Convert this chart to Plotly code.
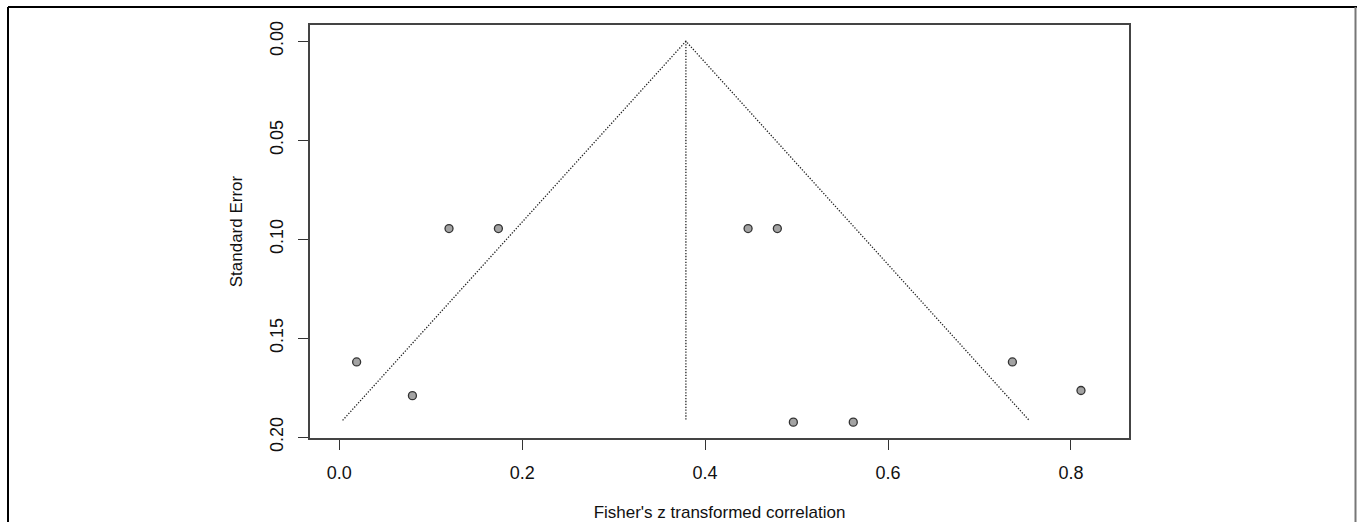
import plotly.graph_objects as go

# Study estimates (Fisher's z) and their standard errors
z_values = [0.019, 0.080, 0.120, 0.174, 0.447, 0.479, 0.4965, 0.562, 0.736, 0.811]
std_errors = [0.162, 0.179, 0.0946, 0.0946, 0.0946, 0.0946, 0.1924, 0.1924, 0.162, 0.1764]

# Funnel definition
pooled_z = 0.379
max_se = 0.1915
z_crit = 1.96

x_ticks = [0.0, 0.2, 0.4, 0.6, 0.8]
x_tick_labels = ["0.0", "0.2", "0.4", "0.6", "0.8"]
y_ticks = [0.00, 0.05, 0.10, 0.15, 0.20]
y_tick_labels = ["0.00", "0.05", "0.10", "0.15", "0.20"]

W, H = 1357, 522
L, R, T, B = 310, 1129, 25, 438

fig = go.Figure()

dot_line = dict(color="#222", width=1.3, dash="1.3px,1.6px")

# funnel sides
fig.add_trace(go.Scatter(
    x=[pooled_z - z_crit * max_se, pooled_z, pooled_z + z_crit * max_se],
    y=[max_se, 0.0, max_se],
    mode="lines", line=dot_line,
    hoverinfo="skip", showlegend=False))
# center line
fig.add_trace(go.Scatter(
    x=[pooled_z, pooled_z], y=[0.0, max_se],
    mode="lines", line=dot_line,
    hoverinfo="skip", showlegend=False))
# studies
fig.add_trace(go.Scatter(
    x=z_values, y=std_errors, mode="markers",
    marker=dict(symbol="circle", size=8, color="#a3a3a3",
                line=dict(color="#333", width=1.3)),
    showlegend=False))

font = dict(family="Liberation Sans, Arial, sans-serif", size=17, color="#111")
tick_font = dict(family="Liberation Sans, Arial, sans-serif", size=18, color="#111")

def px2paper_x(px):
    return (px - L) / (R - L)

def px2paper_y(py):
    return (B - py) / (B - T)

# outer image frame
fig.add_shape(type="line", xref="paper", yref="paper",
              x0=px2paper_x(8), x1=px2paper_x(1357), y0=px2paper_y(7), y1=px2paper_y(7),
              line=dict(color="#000", width=2))
fig.add_shape(type="line", xref="paper", yref="paper",
              x0=px2paper_x(8), x1=px2paper_x(8), y0=px2paper_y(7), y1=px2paper_y(522),
              line=dict(color="#000", width=2))
fig.add_shape(type="line", xref="paper", yref="paper",
              x0=px2paper_x(1355.5), x1=px2paper_x(1355.5), y0=px2paper_y(7), y1=px2paper_y(522),
              line=dict(color="#777", width=2))

fig.update_layout(
    width=W, height=H,
    margin=dict(l=L, r=W - R, t=T, b=H - B, autoexpand=False),
    paper_bgcolor="white", plot_bgcolor="white",
    font=font,
    xaxis=dict(
        range=[-0.032, 0.8635], tickmode="array", tickvals=x_ticks, ticktext=x_tick_labels,
        showgrid=False, zeroline=False, showline=True, mirror=True, automargin=False,
        linecolor="#444", linewidth=1.5, ticks="outside", ticklen=10, tickwidth=1.2,
        tickcolor="#333", ticklabelstandoff=8, tickfont=tick_font,
        title=dict(text="Fisher's z transformed correlation", font=font, standoff=32),
    ),
    yaxis=dict(
        range=[0.2004, -0.0082], tickmode="array", tickvals=y_ticks, ticktext=y_tick_labels,
        showgrid=False, zeroline=False, showline=True, mirror=True, automargin=False,
        linecolor="#444", linewidth=1.5, ticks="outside", ticklen=10, tickwidth=1.2,
        tickcolor="#333", tickangle=-90, ticklabelstandoff=8, tickfont=tick_font,
        title=dict(text="Standard Error", font=font, standoff=20),
    ),
)

fig.write_html("out.html")
